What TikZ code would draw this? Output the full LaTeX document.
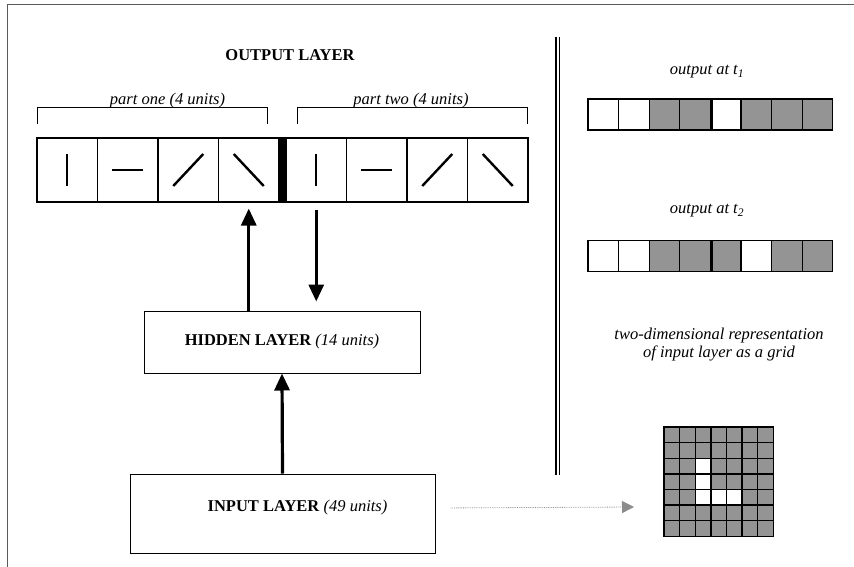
\documentclass[tikz,border=0pt]{standalone}
\usepackage{fontspec}
\setmainfont{Liberation Serif}
\usetikzlibrary{arrows.meta, positioning}

\definecolor{cellgray}{RGB}{148,148,148}
\definecolor{framegray}{RGB}{90,90,90}
\definecolor{dotgray}{RGB}{140,140,140}

\begin{document}
\begin{tikzpicture}[
			x=1pt, y=-1pt,
			every node/.style={font=\fontsize{16.5}{18}\selectfont, align=center},
			note/.style={font=\fontsize{16.5}{18}\selectfont\itshape},
			title/.style={font=\fontsize{16.5}{18}\selectfont\bfseries},
			unit/.style={rectangle, draw, line width=1.1pt, minimum width=60.5pt, minimum height=64pt, inner sep=0pt},
			tick/.style={line width=2.4pt},
			layer/.style={rectangle, draw, line width=1pt, inner sep=0pt},
			line/.style={-{Triangle[length=17pt, width=15pt]}, line width=3.2pt},
			bracket/.style={line width=1pt},
			state/.style={rectangle, draw, line width=1.2pt, minimum width=30.6pt, minimum height=31pt, inner sep=0pt},
			pixel/.style={rectangle, draw, line width=1.4pt, minimum size=15.6pt, inner sep=0pt}
			]
			\useasboundingbox (0,0) rectangle (854,567);
			\draw[framegray, line width=1pt] (7,567) |- (854,5);
			
			% output layer
			\node[title] (outtitle) at (290,55) {OUTPUT LAYER};
			\foreach \i in {1,...,4}
				\node[unit] (o\i) at ({37+60.5*(\i-0.5)},170) {};
			\foreach \i in {5,...,8}
				\node[unit] (o\i) at ({286+60.5*(\i-4.5)},170) {};
			\fill (o4.north east) rectangle (o5.south west);
			\foreach \c in {1,5}
				\draw[tick] ([shift={(0,-16)}]o\c.center) -- ([shift={(0,16)}]o\c.center);
			\foreach \c in {2,6}
				\draw[tick] ([shift={(-15.5,0)}]o\c.center) -- ([shift={(15.5,0)}]o\c.center);
			\foreach \c in {3,7}
				\draw[tick] ([shift={(-15,16)}]o\c.center) -- ([shift={(15,-16)}]o\c.center);
			\foreach \c in {4,8}
				\draw[tick] ([shift={(-15,-16)}]o\c.center) -- ([shift={(15,16)}]o\c.center);
			
			\draw[bracket] (37,124) |- (267,108) -- (267,124);
			\draw[bracket] (297,124) |- (527,108) -- (527,124);
			\node[note, anchor=base] (partone) at (167.5,105) {part one (4 units)};
			\node[note, anchor=base] (parttwo) at (411,105) {part two (4 units)};
			
			% hidden and input layers
			\node[layer, minimum width=276pt, minimum height=62pt] (hidden) at (282,342) {\textbf{HIDDEN LAYER} \textit{(14 units)}};
			\node[layer, minimum width=305pt, minimum height=79pt] (input) at (282.5,513.5) {};
			\node (inputtext) at (297.5,508) {\textbf{INPUT LAYER} \textit{(49 units)}};
			
			\draw[line] (hidden.north -| o4.south) -- ([yshift=-6pt]o4.south);
			\draw[line] ([yshift=-7pt]o5.south) -- ([yshift=9pt]hidden.north -| o5.south);
			\draw[line] (input.north) -- (hidden.south);
			
			% separator
			\draw[line width=1.3pt] (556,37) -- (556,475);
			\draw[line width=1.3pt] (559.5,37) -- (559.5,475);
			
			% outputs over time
			\node[note] (tonelabel) at (707,72) {output at t\textsubscript{1}};
			\foreach \f [count=\i] in {white,white,cellgray,cellgray,white,cellgray,cellgray,cellgray}
				\node[state, fill=\f] (a\i) at ({588+30.6*(\i-0.5)},114.5) {};
			\draw[line width=3pt] (a4.north east) -- (a4.south east);
			
			\node[note] (ttwolabel) at (707,211) {output at t\textsubscript{2}};
			\foreach \f [count=\i] in {white,white,cellgray,cellgray,cellgray,white,cellgray,cellgray}
				\node[state, fill=\f] (b\i) at ({588+30.6*(\i-0.5)},256) {};
			\draw[line width=3pt] (b4.north east) -- (b4.south east);
			
			% input grid
			\node[note] (gridlabel) at (719,345) {two-dimensional representation\\of input layer as a grid};
			\foreach \row [count=\r] in {{0,0,0,0,0,0,0},{0,0,0,0,0,0,0},{0,0,1,0,0,0,0},{0,0,1,0,0,0,0},{0,0,1,1,1,0,0},{0,0,0,0,0,0,0},{0,0,0,0,0,0,0}}{
				\foreach \p [count=\c] in \row {
					\ifnum\p=1 \def\shade{white}\else\def\shade{cellgray}\fi
					\node[pixel, fill=\shade] (g\r\c) at ({664+15.6*(\c-0.5)},{427+15.6*(\r-0.5)}) {};
				}
			}
			\coordinate (gridin) at (634,507);
			\draw[dotgray, densely dotted, line width=0.8pt, -{Triangle[length=12pt, width=12pt]}, shorten <=15pt] (input.east |- inputtext) -- (gridin);
		\end{tikzpicture}
\end{document}
